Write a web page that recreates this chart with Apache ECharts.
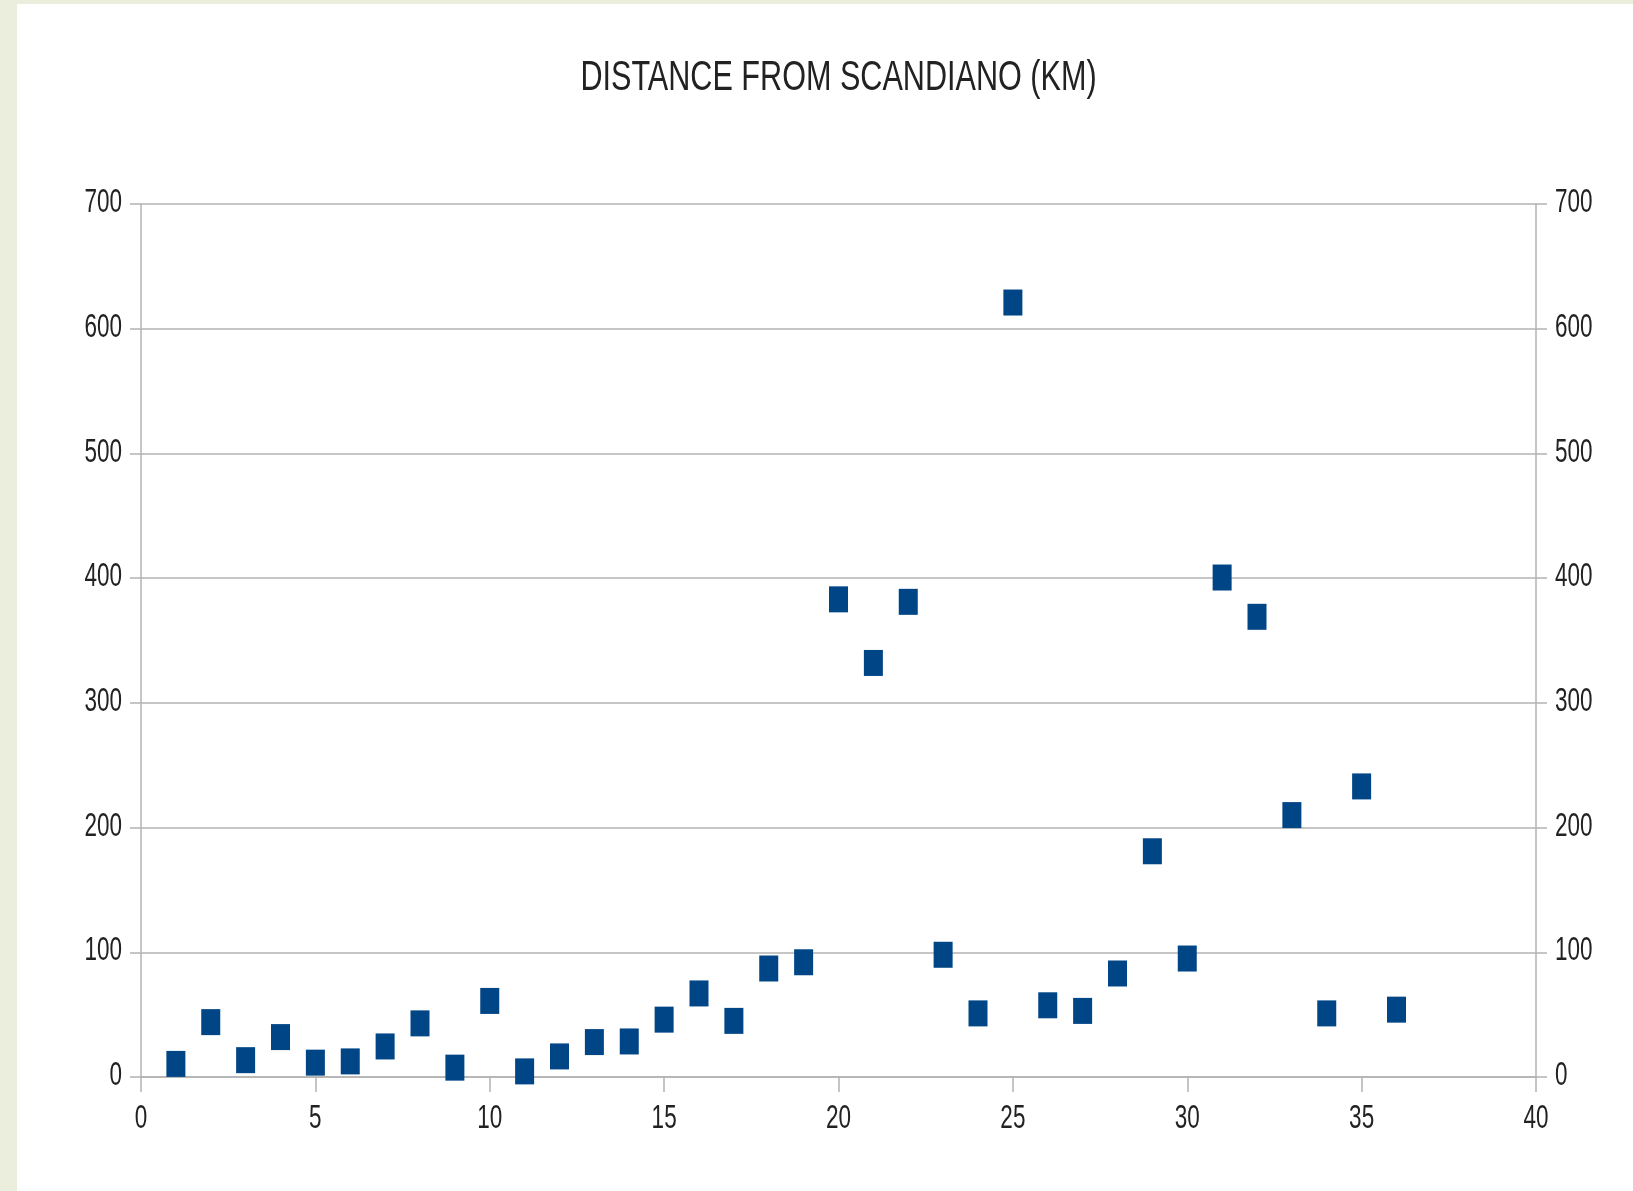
<!DOCTYPE html>
<html>
<head>
<meta charset="utf-8">
<script src="https://cdn.jsdelivr.net/npm/echarts@6/dist/echarts.min.js"></script>
<style>
  html, body { margin: 0; padding: 0; width: 1633px; height: 1191px; background: #ebeedd; overflow: hidden; }
  #chart { position: absolute; left: 17px; top: 4px; width: 1616px; height: 1187px; background: #ffffff; }
</style>
</head>
<body>
<div id="chart"></div>
<script>
const titleText = 'DISTANCE FROM SCANDIANO (KM)';
const xValues = [1,2,3,4,5,6,7,8,9,10,11,12,13,14,15,16,17,18,19,20,21,22,23,24,25,26,27,28,29,30,31,32,33,34,35,36];
const distances = [10.5,44,13.5,32,11.5,12.5,24.5,43,7.5,61,4.5,16.5,28,28.5,46,67,45,87,92,383,332,381,98,51,621,57.5,53,83,181,95,400.5,369,210,51,233,54];
const xTickLabels = [0,5,10,15,20,25,30,35,40];
const yTickLabels = [0,100,200,300,400,500,600,700];
const xAxisRange = { min: 0, max: 40, interval: 5 };
const yAxisRange = { min: 0, max: 700, interval: 100 };

const FONT = "'Liberation Sans', Arial, sans-serif";
const axisColor = '#b3b3b3';
const textColor = '#222222';
const LABEL_SIZE = 22.5, LABEL_SCALE_Y = 1.47;
const TITLE_SIZE = 30.6, TITLE_SCALE_Y = 1.36;

const points = xValues.map((x, i) => [x, distances[i]]);

const chart = echarts.init(document.getElementById('chart'));
const commonAxis = {
  axisLine: { show: true, onZero: false, lineStyle: { color: axisColor, width: 1.5 } },
  axisLabel: { show: false }
};
chart.setOption({
  animation: false,
  backgroundColor: '#ffffff',
  grid: { left: 124, right: 97, top: 200, bottom: 114, containLabel: false },
  xAxis: Object.assign({
    type: 'value',
    min: xAxisRange.min, max: xAxisRange.max, interval: xAxisRange.interval,
    axisTick: { show: true, inside: false, length: 15, lineStyle: { color: axisColor, width: 1.5 } },
    splitLine: { show: false }
  }, commonAxis),
  yAxis: [
    Object.assign({
      type: 'value', position: 'left',
      min: yAxisRange.min, max: yAxisRange.max, interval: yAxisRange.interval,
      axisTick: { show: true, inside: false, length: 11, lineStyle: { color: axisColor, width: 1.5 } },
      splitLine: { show: true, lineStyle: { color: axisColor, width: 1.5 } }
    }, commonAxis),
    Object.assign({
      type: 'value', position: 'right',
      min: yAxisRange.min, max: yAxisRange.max, interval: yAxisRange.interval,
      axisTick: { show: true, inside: false, length: 11, lineStyle: { color: axisColor, width: 1.5 } },
      splitLine: { show: false }
    }, commonAxis)
  ],
  series: [{
    type: 'scatter',
    yAxisIndex: 0,
    data: points,
    symbol: 'rect',
    symbolSize: [19, 26],
    itemStyle: { color: '#004586', opacity: 1 }
  }]
});

// Tick labels and title as real text, positioned via the library's own scales,
// stretched vertically like the reference's tall, narrow lettering.
const elements = [];
const xLeft = chart.convertToPixel({ xAxisIndex: 0 }, xAxisRange.min);
const xRight = chart.convertToPixel({ xAxisIndex: 0 }, xAxisRange.max);
const yBottom = chart.convertToPixel({ yAxisIndex: 0 }, yAxisRange.min);
const yTop = chart.convertToPixel({ yAxisIndex: 0 }, yAxisRange.max);
const labelFont = LABEL_SIZE + 'px ' + FONT;

yTickLabels.forEach(v => {
  const py = chart.convertToPixel({ yAxisIndex: 0 }, v);
  elements.push({ type: 'text', x: xLeft - 19, y: py - 1, scaleY: LABEL_SCALE_Y, silent: true,
    style: { text: String(v), font: labelFont, fill: textColor, align: 'right', verticalAlign: 'middle' } });
  const pyR = chart.convertToPixel({ yAxisIndex: 1 }, v);
  elements.push({ type: 'text', x: xRight + 19, y: pyR - 1, scaleY: LABEL_SCALE_Y, silent: true,
    style: { text: String(v), font: labelFont, fill: textColor, align: 'left', verticalAlign: 'middle' } });
});
xTickLabels.forEach(v => {
  const px = chart.convertToPixel({ xAxisIndex: 0 }, v);
  elements.push({ type: 'text', x: px, y: yBottom + 42, scaleY: LABEL_SCALE_Y, silent: true,
    style: { text: String(v), font: labelFont, fill: textColor, align: 'center', verticalAlign: 'middle' } });
});
elements.push({ type: 'text', x: (xLeft + xRight) / 2, y: yTop - 125, scaleY: TITLE_SCALE_Y, silent: true,
  style: { text: titleText, font: TITLE_SIZE + 'px ' + FONT, fill: textColor, align: 'center', verticalAlign: 'middle' } });

chart.setOption({ graphic: { elements: elements } });
</script>
</body>
</html>
